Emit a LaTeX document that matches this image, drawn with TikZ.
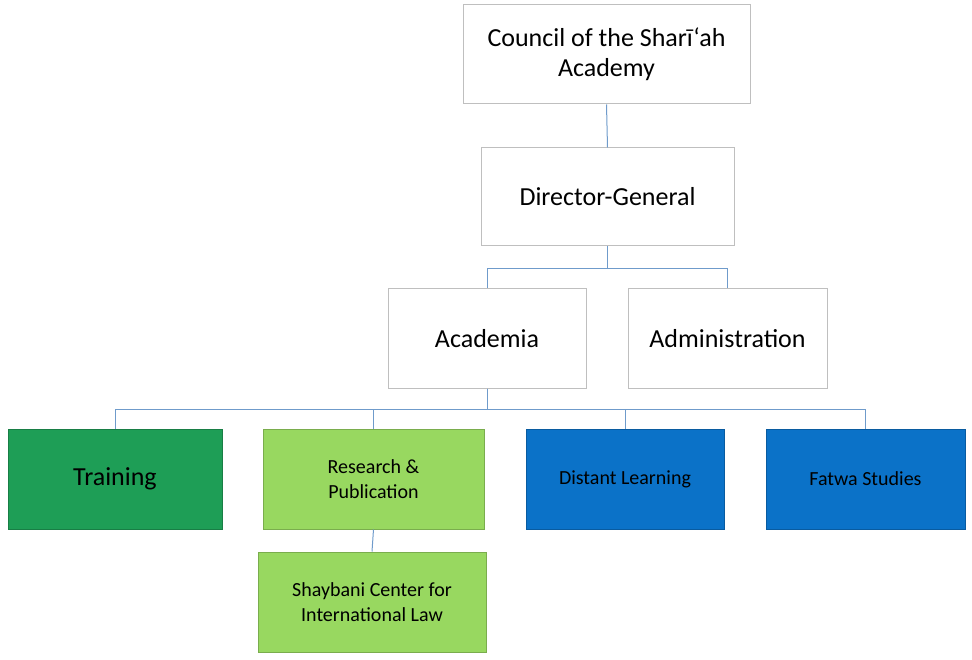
\documentclass[tikz,border=0pt]{standalone}
\usepackage{fontspec}
\setmainfont{Carlito}
\begin{document}
\begin{tikzpicture}[x=1pt,y=-1pt,
 wbox/.style={draw=black!25,fill=white,line width=1pt,inner sep=0pt,align=center,font=\fontsize{26}{30}\selectfont},
 cbox/.style={draw=#1!80!black,fill=#1,line width=1pt,inner sep=0pt,align=center,font=\fontsize{20}{25}\selectfont},
 con/.style={draw=conc,line width=1pt}]
\definecolor{conc}{HTML}{6F9BCB}
\definecolor{dg}{HTML}{1E9E56}
\definecolor{lg}{HTML}{98D860}
\definecolor{bl}{HTML}{0B72C8}
\useasboundingbox (0,0) rectangle (972,660);
\node[wbox,minimum width=287pt,minimum height=99pt] (c) at (606.5,54.5) {Council of the Sharī‘ah\\Academy};
\node[wbox,minimum width=253pt,minimum height=98pt] (d) at (607.5,197) {Director-General};
\node[wbox,minimum width=198pt,minimum height=99pt] (a) at (487,338.5) {Academia};
\node[wbox,minimum width=199pt,minimum height=99pt] (ad) at (727.5,338.5) {Administration};
\node[cbox=dg,minimum width=214pt,minimum height=100pt,font=\fontsize{26}{30}\selectfont] (t) at (115,479) {Training};
\node[cbox=lg,minimum width=221pt,minimum height=100pt] (r) at (373.5,479) {Research \&\\Publication};
\node[cbox=bl,minimum width=198pt,minimum height=100pt] (dl) at (625,479) {Distant Learning};
\node[cbox=bl,minimum width=199pt,minimum height=100pt] (f) at (865.5,479) {Fatwa Studies};
\node[cbox=lg,minimum width=228pt,minimum height=100pt] (s) at (372,602) {Shaybani Center for\\International Law};
\draw[con] (c.south) -- (d.north);
\draw[con] (d.south) -- ++(0,22) -| (a.north);
\draw[con] (d.south) -- ++(0,22) -| (ad.north);
\draw[con] (a.south) -- ++(0,21) -| (t.north);
\draw[con] (a.south) -- ++(0,21) -| (r.north);
\draw[con] (a.south) -- ++(0,21) -| (dl.north);
\draw[con] (a.south) -- ++(0,21) -| (f.north);
\draw[con] (r.south) -- (s.north);
\end{tikzpicture}
\end{document}
